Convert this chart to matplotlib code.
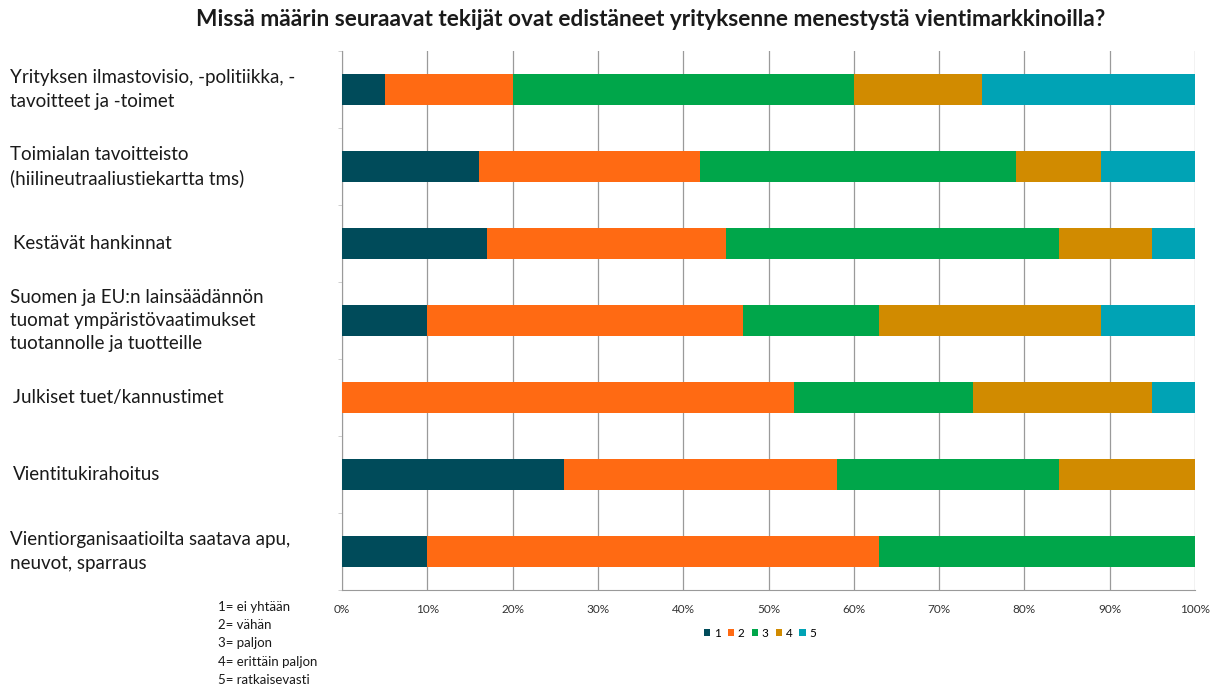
import numpy as np
import matplotlib.pyplot as plt
import matplotlib.transforms as mtransforms
from matplotlib.patches import Patch

plt.rcParams["font.family"] = ["Lato", "DejaVu Sans"]

# ── Data ─────────────────────────────────────────────────────────────────────
categories = [
    "Yrityksen ilmastovisio, -politiikka, -\ntavoitteet ja -toimet",
    "Toimialan tavoitteisto\n(hiilineutraaliustiekartta tms)",
    "Kestävät hankinnat",
    "Suomen ja EU:n lainsäädännön\ntuomat ympäristövaatimukset\ntuotannolle ja tuotteille",
    "Julkiset tuet/kannustimet",
    "Vientitukirahoitus",
    "Vientiorganisaatioilta saatava apu,\nneuvot, sparraus",
]
series_names = ["1", "2", "3", "4", "5"]
share_1 = [5, 16, 17, 10, 0, 26, 10]
share_2 = [15, 26, 28, 37, 53, 32, 53]
share_3 = [40, 37, 39, 16, 21, 26, 37]
share_4 = [15, 10, 11, 26, 21, 16, 0]
share_5 = [25, 11, 5, 11, 5, 0, 0]
x_ticks = [0, 10, 20, 30, 40, 50, 60, 70, 80, 90, 100]
scale_notes = ["1= ei yhtään", "2= vähän", "3= paljon", "4= erittäin paljon", "5= ratkaisevasti"]

COLORS = ["#004b5a", "#ff6a13", "#00a64a", "#d18b00", "#00a3b5"]
GRID = "#9a9a9a"

fig = plt.figure(figsize=(12.19, 6.86), dpi=100)
ax = fig.add_axes([0.2806, 0.14, 0.6997, 0.7857])

y = np.arange(len(categories))
left = np.zeros(len(categories))
for name, vals, col in zip(series_names,
                           [share_1, share_2, share_3, share_4, share_5], COLORS):
    vals = np.array(vals, dtype=float)
    ax.barh(y, vals, left=left, height=0.4, color=col, edgecolor="none",
            zorder=3, label=name)
    left += vals

ax.set_xlim(0, 100)
ax.set_ylim(len(categories) - 0.5, -0.5)
ax.set_xticks(x_ticks)
ax.set_xticklabels([f"{t}%" for t in x_ticks], fontsize=8.5, color="#333333")
ax.tick_params(axis="x", length=0, pad=10)
ax.grid(axis="x", color=GRID, linewidth=0.9, zorder=0)

ax.set_yticks([])
ax.set_yticks(np.arange(len(categories) + 1) - 0.5, minor=True)
ax.tick_params(axis="y", which="minor", length=3, color="#c8c8c8", labelleft=False)

for side in ["top", "right"]:
    ax.spines[side].set_visible(False)
ax.spines["left"].set_color(GRID)
ax.spines["bottom"].set_color(GRID)

# category labels sit at the left edge of the figure
trans = mtransforms.blended_transform_factory(fig.transFigure, ax.transData)
for i, lab in enumerate(categories):
    xpos = 0.008 if "\n" in lab else 0.011
    ax.text(xpos, i, lab, transform=trans, ha="left", va="center",
            fontsize=13.5, color="#1a1a1a", linespacing=1.45)

fig.text(0.534, 0.972,
         "Missä määrin seuraavat tekijät ovat edistäneet yrityksenne menestystä vientimarkkinoilla?",
         ha="center", va="center", fontsize=16.3, fontweight="bold", color="#1a1a1a")

handles = [Patch(facecolor=c, edgecolor="none") for c in COLORS]
ax.legend(handles, series_names, loc="center", bbox_to_anchor=(0.49, -0.08),
          ncol=5, frameon=False, fontsize=8.5, handlelength=0.55, handleheight=0.55,
          handletextpad=0.3, columnspacing=0.6)

for k, note in enumerate(scale_notes):
    fig.text(0.179, 1 - (607 + 18.2 * k) / 686, note, ha="left", va="center",
             fontsize=9.5, color="#1a1a1a")

fig.savefig("out.png", dpi=100, facecolor="white")
